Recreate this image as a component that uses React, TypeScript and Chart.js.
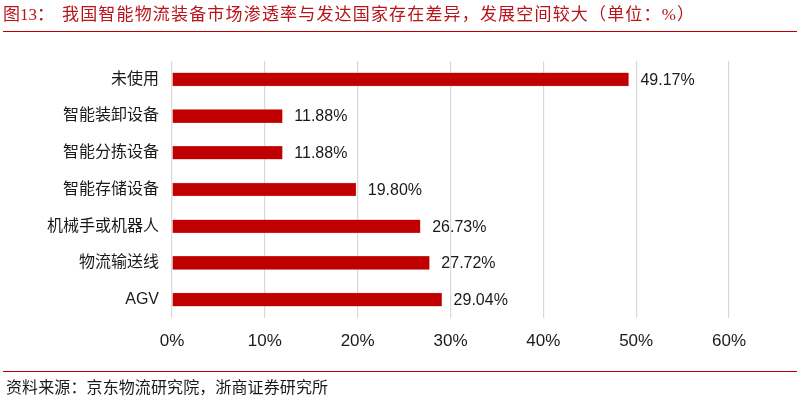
import React, { useEffect, useRef } from "react";
import { Chart, registerables } from "chart.js";

Chart.register(...registerables);

const categories = ["未使用", "智能装卸设备", "智能分拣设备", "智能存储设备", "机械手或机器人", "物流输送线", "AGV"];
const values = [49.17, 11.88, 11.88, 19.8, 26.73, 27.72, 29.04];
const valueLabels = ["49.17%", "11.88%", "11.88%", "19.80%", "26.73%", "27.72%", "29.04%"];
const xTicks = [0, 10, 20, 30, 40, 50, 60];

const titlePrefix = "图13：";
const titleText = "我国智能物流装备市场渗透率与发达国家存在差异，发展空间较大（单位：%）";
const sourceText = "资料来源：京东物流研究院，浙商证券研究所";

const RED = "#C00000";
const TITLE_RED = "#B8141C";
const CJK = '"Liberation Serif", "Noto Sans CJK SC"';
const SANS = '"Liberation Sans", Arial, "Noto Sans CJK SC", sans-serif';

function fitText(ctx: any, text: string, x: number, y: number, targetWidth: number) {
  ctx.letterSpacing = "0px";
  const w = ctx.measureText(text).width;
  const n = Array.from(text).length;
  const sp = Math.max(0, (targetWidth - w) / Math.max(1, n - 1));
  ctx.letterSpacing = `${sp}px`;
  ctx.fillText(text, x, y);
  ctx.letterSpacing = "0px";
}

export default function App() {
  const ref = useRef<HTMLCanvasElement | null>(null);

  useEffect(() => {
    document.body.style.margin = "0";
    const canvas = ref.current;
    if (!canvas) return;

    const decor = {
      id: "decor",
      afterDraw(chart: any) {
        const ctx = chart.ctx;
        ctx.save();
        // title
        ctx.fillStyle = TITLE_RED;
        ctx.font = `17px ${CJK}`;
        ctx.textBaseline = "middle";
        ctx.textAlign = "left";
        fitText(ctx, titlePrefix, 3, 16, 50);
        fitText(ctx, titleText, 62, 16, 632);
        // lines
        ctx.strokeStyle = RED;
        ctx.lineWidth = 1.2;
        ctx.beginPath();
        ctx.moveTo(3, 31.5);
        ctx.lineTo(797, 31.5);
        ctx.stroke();
        ctx.beginPath();
        ctx.moveTo(3, 371.5);
        ctx.lineTo(797, 371.5);
        ctx.stroke();
        // source
        ctx.fillStyle = "#1a1a1a";
        ctx.font = `16px ${CJK}`;
        fitText(ctx, sourceText, 6, 389, 322);
        // value labels
        const meta = chart.getDatasetMeta(0);
        ctx.fillStyle = "#1a1a1a";
        ctx.font = `16px ${SANS}`;
        meta.data.forEach((bar: any, i: number) => {
          ctx.fillText(valueLabels[i], bar.x + 12, bar.y + 1);
        });
        ctx.restore();
      },
    };

    const chart = new Chart(canvas, {
      type: "bar",
      data: {
        labels: categories,
        datasets: [
          {
            data: values,
            backgroundColor: RED,
            borderColor: "#D04040",
            borderWidth: 0.5,
            barThickness: 13,
          },
        ],
      },
      options: {
        indexAxis: "y",
        animation: false,
        responsive: false,
        maintainAspectRatio: false,
        layout: { padding: { left: 0, right: 73, top: 61, bottom: 54 } },
        plugins: { legend: { display: false }, tooltip: { enabled: false } },
        scales: {
          x: {
            min: 0,
            max: 60,
            afterFit(scale: any) {
              scale.height = 30;
            },
            afterBuildTicks(scale: any) {
              scale.ticks = xTicks.map((v) => ({ value: v }));
            },
            grid: { color: "#d9d9d9", lineWidth: 1.2, drawTicks: false },
            border: { display: false },
            ticks: {
              padding: 13,
              color: "#1a1a1a",
              font: { size: 17, family: SANS },
              callback: (v: any) => `${v}%`,
            },
          },
          y: {
            afterFit(scale: any) {
              scale.width = 172;
            },
            grid: { display: false, drawTicks: false },
            border: { display: false },
            ticks: {
              padding: 13,
              color: "#1a1a1a",
              font: { size: 16, family: SANS },
            },
          },
        },
      },
      plugins: [decor],
    });
    return () => chart.destroy();
  }, []);

  return (
    <div style={{ position: "relative", width: 802, height: 402, background: "#fff" }}>
      <canvas ref={ref} width={802} height={402} style={{ display: "block", width: 802, height: 402 }} />
    </div>
  );
}
